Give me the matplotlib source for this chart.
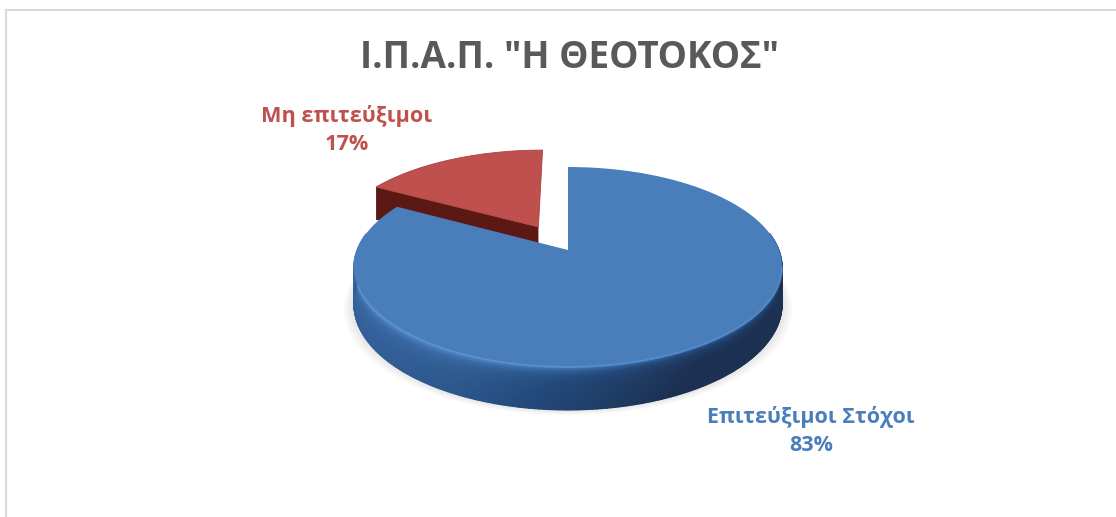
import numpy as np
import matplotlib
matplotlib.use('Agg')
import matplotlib.pyplot as plt
from matplotlib.colors import LinearSegmentedColormap

plt.rcParams['font.family'] = ['Open Sans', 'DejaVu Sans']

title = 'Ι.Π.Α.Π. "Η ΘΕΟΤΟΚΟΣ"'
labels = ['Επιτεύξιμοι Στόχοι', 'Μη επιτεύξιμοι']
values = [83, 17]
colors = ['#4a7ebb', '#c0504d']
wall_red = '#5c1815'

# the 3d pie is a circle seen through a homography, all in pixels of the figure
cx, cy = 568, 250
rx = 211
persp = 0.17
tilt = -54.6
explode = 0.287


def project(u, v):
    d = 1 + persp * v
    return cx + rx * u / d, (tilt * v + cy) / d


def depth(y):
    return 33 + (y - 192) * 10 / 175


def rim(start, end, n=200):
    # angles in degrees, clockwise from the top of the pie
    t = np.radians(np.linspace(start, end, n))
    return np.sin(t), np.cos(t)


fig = plt.figure(figsize=(11.16, 5.17), dpi=100)
ax = fig.add_axes([0, 0, 1, 1])
ax.set_xlim(0, 1116)
ax.set_ylim(517, 0)
ax.axis('off')

# chart border
ax.plot([6, 6, 1116], [517, 10, 10], color='#d9d9d9', lw=1.5, solid_joinstyle='miter')

blue_end = 360 * values[0] / sum(values)

# soft shadow under the front of the pie only
u, v = rim(85, 275, 200)
x, y = project(u, v)
for grow in [10, 8, 6, 4, 2]:
    ax.fill(cx + (x - cx) * (1 + grow / 214), y + depth(y) + grow * 0.5,
            color='#7a7a86', alpha=0.035, lw=0, zorder=1)

# red slice, pushed out along its middle angle
mid = np.radians(blue_end + 360 * values[1] / sum(values) / 2)
ou, ov = np.sin(mid) * explode, np.cos(mid) * explode
u, v = rim(blue_end, 360)
u_r = np.r_[ou, u + ou]
v_r = np.r_[ov, v + ov]
xr, yr = project(u_r, v_r)
wx = np.array([xr[1], xr[0], xr[0], xr[1]])
wy = np.array([yr[1], yr[0], yr[0] + depth(yr[0]), yr[1] + depth(yr[1])])
ax.fill(wx, wy, color=wall_red, lw=0, zorder=2)
ax.fill(xr, yr, color=colors[1], ec='#a8423f', lw=0.6, zorder=3)

# side of the blue slice, shaded from left to right and downward
side_cmap = LinearSegmentedColormap.from_list(
    'side', ['#1c3152', '#234a7c', '#3a6aa5', '#4f86c6', '#639bdc'])
t = np.radians(np.linspace(80, 280, 260))
xs, ys = project(np.sin(t), np.cos(t))
down = np.linspace(0, 1, 24)
X = np.outer(np.ones_like(down), xs)
Y = ys + np.outer(down, depth(ys))
across = (xs - 354) / 428
base = np.interp(across, [0, 0.25, 0.55, 0.8, 1], [0.5, 0.42, 0.22, 0.03, 0.02])
C = base + np.outer(np.exp(-down * 9), 0.45 * np.ones_like(xs)) - np.outer(down, 0.08 * np.ones_like(xs))
ax.pcolormesh(X, Y, np.clip(C, 0, 1), cmap=side_cmap, vmin=0, vmax=1, shading='gouraud', zorder=4)

# top of the blue slice
u, v = rim(0, blue_end)
xb, yb = project(np.r_[u, 0], np.r_[v, 0])
ax.fill(xb, yb, color=colors[0], lw=0, zorder=5)

# light bevel along the front of the rim
u, v = rim(100, 250)
xl, yl = project(u, v)
ax.plot(xl, yl, color='#5f97d8', lw=1.4, alpha=0.6, zorder=6)

ax.text(569, 58, title, ha='center', va='center', fontsize=26.6, fontweight='bold', color='#595959', zorder=7)
ax.text(347, 130, f'{labels[1]}\n{values[1]}%', ha='center', va='center', fontsize=15.6, fontweight='bold',
        color=colors[1], linespacing=1.45, zorder=7)
ax.text(811, 431, f'{labels[0]}\n{values[0]}%', ha='center', va='center', fontsize=15.5, fontweight='bold',
        color=colors[0], linespacing=1.4, zorder=7)

fig.savefig('out.png', dpi=100)
